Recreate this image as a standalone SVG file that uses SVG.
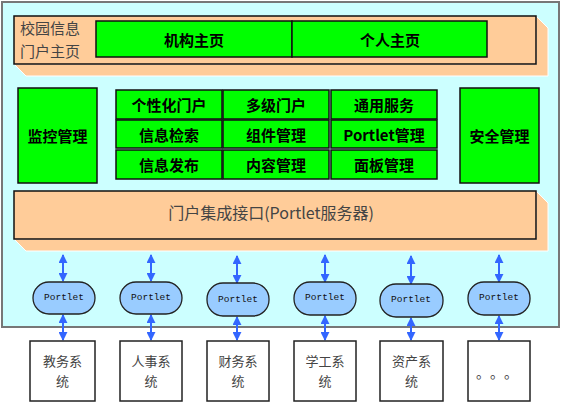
<svg xmlns="http://www.w3.org/2000/svg" width="564" height="416" viewBox="0 0 564 416">
<defs>
<style>
.cn{font-family:"Noto Sans CJK SC","Noto Sans",sans-serif;}
.g{fill:#00FF00;stroke:#111;stroke-width:1.5;}
.gt{font-size:15px;font-weight:bold;fill:#000;text-anchor:middle;dominant-baseline:central;}
.pe{fill:#FFCC99;stroke:#111;stroke-width:1.5;}
.ex{fill:#FFCC99;stroke:#fff;stroke-width:1;}
.pl{fill:#99CCFF;stroke:#222;stroke-width:1.3;}
.plt{font-family:"Liberation Mono","DejaVu Sans Mono",monospace;font-size:9.5px;fill:#111;text-anchor:middle;dominant-baseline:central;}
.sys{fill:#fff;stroke:#222;stroke-width:1.5;}
.st{font-size:13px;fill:#444;text-anchor:middle;}
.ar{stroke:#3366FF;stroke-width:2;fill:none;marker-start:url(#ah);marker-end:url(#ah);}
</style>
<marker id="ah" viewBox="0 0 10 10" refX="9" refY="5" markerWidth="9" markerHeight="9" markerUnits="userSpaceOnUse" orient="auto-start-reverse">
<path d="M0,0 L10,5 L0,10 z" fill="#3366FF"/>
</marker>
</defs>
<rect x="2" y="2" width="557" height="325" fill="#CCFFFF" stroke="#777" stroke-width="2"/>

<g id="portal-home">
<polygon class="ex" points="14,64 26,76 548,76 548,28 536,16 536,64"/>
<rect class="pe" x="14" y="16" width="522" height="48"/>
<text class="cn" x="20" y="34" font-size="15" fill="#444">校园信息</text>
<text class="cn" x="20" y="57" font-size="15" fill="#444">门户主页</text>
</g>
<g id="org-home"><rect class="g" x="96" y="21" width="196" height="36"/><text class="cn gt" x="194" y="39" font-size="16">机构主页</text></g>
<g id="personal-home"><rect class="g" x="292" y="21" width="195" height="36"/><text class="cn gt" x="390" y="39">个人主页</text></g>

<g id="monitor"><rect class="g" x="18" y="88" width="79" height="95"/><text class="cn gt" x="57.5" y="135" font-size="16">监控管理</text></g>
<g id="security"><rect class="g" x="460" y="88" width="79" height="95"/><text class="cn gt" x="499.5" y="135">安全管理</text></g>

<g id="personalized"><rect class="g" x="116" y="90" width="106" height="29"/><text class="cn gt" x="169" y="104">个性化门户</text></g>
<g id="multilevel"><rect class="g" x="223" y="90" width="106" height="29"/><text class="cn gt" x="276" y="104">多级门户</text></g>
<g id="common"><rect class="g" x="331" y="90" width="106" height="29"/><text class="cn gt" x="384" y="104">通用服务</text></g>
<g id="search"><rect class="g" x="116" y="120" width="106" height="28"/><text class="cn gt" x="169" y="134">信息检索</text></g>
<g id="component"><rect class="g" x="223" y="120" width="106" height="28"/><text class="cn gt" x="276" y="134">组件管理</text></g>
<g id="portlet-mgmt"><rect class="g" x="331" y="120" width="106" height="28"/><text class="cn gt" x="384" y="134">Portlet管理</text></g>
<g id="publish"><rect class="g" x="116" y="150" width="106" height="29"/><text class="cn gt" x="169" y="164">信息发布</text></g>
<g id="content"><rect class="g" x="223" y="150" width="106" height="29"/><text class="cn gt" x="276" y="164">内容管理</text></g>
<g id="panel"><rect class="g" x="331" y="150" width="106" height="29"/><text class="cn gt" x="384" y="164">面板管理</text></g>

<g id="integration">
<polygon class="ex" points="14,239 26,251 548,251 548,203 536,191 536,239"/>
<rect class="pe" x="14" y="191" width="522" height="48"/>
<text class="cn" x="271" y="219" font-size="16" fill="#444" text-anchor="middle">门户集成接口(Portlet服务器)</text>
</g>

<g id="connectors">
<line class="ar" x1="63" y1="255" x2="63" y2="281"/>
<line class="ar" x1="151" y1="255" x2="151" y2="281"/>
<line class="ar" x1="237" y1="256" x2="237" y2="283"/>
<line class="ar" x1="325" y1="255" x2="325" y2="282"/>
<line class="ar" x1="411" y1="256" x2="411" y2="284"/>
<line class="ar" x1="499" y1="255" x2="499" y2="282"/>
<line class="ar" x1="63" y1="315" x2="63" y2="340"/>
<line class="ar" x1="151" y1="315" x2="151" y2="340"/>
<line class="ar" x1="237" y1="317" x2="237" y2="340"/>
<line class="ar" x1="325" y1="316" x2="325" y2="340"/>
<line class="ar" x1="411" y1="318" x2="411" y2="340"/>
<line class="ar" x1="499" y1="316" x2="499" y2="340"/>
</g>

<g id="portlet1"><rect class="pl" x="33" y="282" width="62" height="32" rx="16"/><text class="plt" x="64" y="297">Portlet</text></g>
<g id="portlet2"><rect class="pl" x="120" y="282" width="62" height="32" rx="16"/><text class="plt" x="151" y="297">Portlet</text></g>
<g id="portlet3"><rect class="pl" x="207" y="283" width="62" height="33" rx="16"/><text class="plt" x="238" y="299">Portlet</text></g>
<g id="portlet4"><rect class="pl" x="294" y="282" width="62" height="33" rx="16"/><text class="plt" x="325" y="297">Portlet</text></g>
<g id="portlet5"><rect class="pl" x="380" y="284" width="63" height="33" rx="16"/><text class="plt" x="411" y="299">Portlet</text></g>
<g id="portlet6"><rect class="pl" x="468" y="282" width="62" height="33" rx="16"/><text class="plt" x="499" y="297">Portlet</text></g>

<g id="sys1"><rect class="sys" x="30" y="341" width="65" height="60"/><text class="cn st" x="62.5" y="366">教务系</text><text class="cn st" x="62.5" y="386">统</text></g>
<g id="sys2"><rect class="sys" x="120" y="341" width="62" height="60"/><text class="cn st" x="151" y="366">人事系</text><text class="cn st" x="151" y="386">统</text></g>
<g id="sys3"><rect class="sys" x="207" y="341" width="62" height="60"/><text class="cn st" x="238" y="366">财务系</text><text class="cn st" x="238" y="386">统</text></g>
<g id="sys4"><rect class="sys" x="294" y="341" width="62" height="60"/><text class="cn st" x="325" y="366">学工系</text><text class="cn st" x="325" y="386">统</text></g>
<g id="sys5"><rect class="sys" x="380" y="341" width="63" height="60"/><text class="cn st" x="411.5" y="366">资产系</text><text class="cn st" x="411.5" y="386">统</text></g>
<g id="sys6"><rect class="sys" x="468" y="341" width="62" height="60"/><text class="cn" x="476 490 504" y="378" font-size="14" fill="#444">。。。</text></g>
</svg>
